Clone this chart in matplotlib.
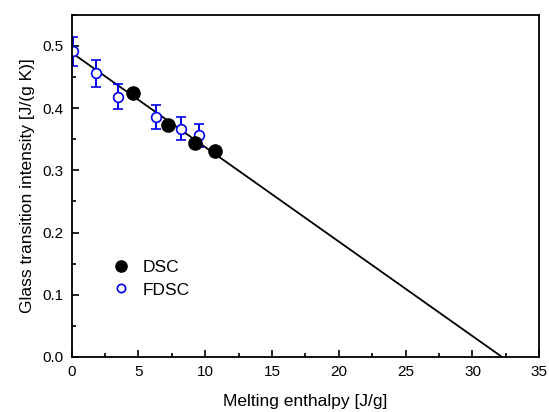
import numpy as np
import matplotlib
matplotlib.use("Agg")
import matplotlib.pyplot as plt
from matplotlib.ticker import MultipleLocator

plt.rcParams['font.family'] = ['Liberation Sans', 'DejaVu Sans']

# DSC data
dsc_x = [4.6, 7.2, 9.2, 10.7]
dsc_y = [0.425, 0.373, 0.344, 0.331]

# FDSC data with error bars
fdsc_x = [0.1, 1.8, 3.5, 6.3, 8.2, 9.5]
fdsc_y = [0.491, 0.456, 0.418, 0.386, 0.367, 0.356]
fdsc_err = [0.023, 0.022, 0.020, 0.019, 0.018, 0.018]

# linear fit line
fit_intercept = 0.489
fit_slope = -0.01518

fig = plt.figure(figsize=(5.49, 4.12), dpi=100)
ax = fig.add_axes([0.1306, 0.1335, 0.8517, 0.8308])

x_end = -fit_intercept / fit_slope
fx = np.array([0, x_end])
ax.plot(fx, fit_intercept + fit_slope * fx, 'k-', lw=1.3, zorder=1)

ax.plot(dsc_x, dsc_y, 'o', color='black', ms=9.5, zorder=3, label='DSC')
ax.errorbar(fdsc_x, fdsc_y, yerr=fdsc_err, fmt='o', color='#0000ee', mfc='white',
            mec='#0000ee', ms=7, mew=1.2, elinewidth=1.4, capsize=3.5, capthick=1.4,
            zorder=2, label='FDSC')

ax.set_xlim(0, 35)
ax.set_ylim(0, 0.55)
ax.xaxis.set_major_locator(MultipleLocator(5))
ax.xaxis.set_minor_locator(MultipleLocator(2.5))
ax.yaxis.set_major_locator(MultipleLocator(0.1))
ax.yaxis.set_minor_locator(MultipleLocator(0.05))
ax.tick_params(which='both', direction='in', labelsize=11, width=1.2)
ax.tick_params(which='major', length=5)
ax.tick_params(which='minor', length=3)
ax.tick_params(axis='x', pad=6)
ax.tick_params(axis='y', pad=6)
for s in ax.spines.values():
    s.set_linewidth(1.3)

ax.set_xlabel('Melting enthalpy [J/g]', fontsize=12.5, labelpad=10.5)
ax.set_ylabel('Glass transition intensity [J/(g K)]', fontsize=12.5, labelpad=5)

handles, labels = ax.get_legend_handles_labels()
leg = ax.legend([handles[0], handles[1][0]], labels, loc='lower left',
                bbox_to_anchor=(0.034, 0.128), frameon=False, fontsize=12.5,
                handletextpad=0.27, labelspacing=0.44, markerscale=0.85)

fig.savefig('out.png', dpi=100)
